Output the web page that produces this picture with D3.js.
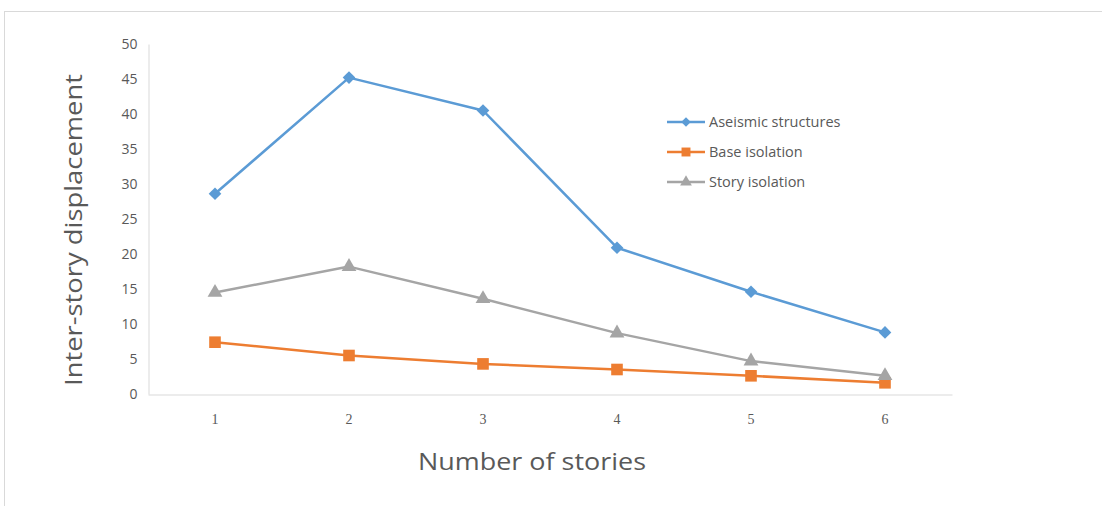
<!DOCTYPE html>
<html>
<head>
<meta charset="utf-8">
<script src="https://cdn.jsdelivr.net/npm/d3@7"></script>
<style>
  html, body { margin: 0; padding: 0; background: #fff; }
  svg { display: block; }
</style>
</head>
<body>
<svg id="chart" width="1102" height="506"></svg>
<script>
// Inter-story displacement by number of stories
const stories = [1, 2, 3, 4, 5, 6];
const aseismic = [28.6, 45.2, 40.5, 20.9, 14.6, 8.8];
const baseIsolation = [7.4, 5.5, 4.3, 3.5, 2.6, 1.6];
const storyIsolation = [14.5, 18.2, 13.6, 8.7, 4.7, 2.6];
const yTicks = [0, 5, 10, 15, 20, 25, 30, 35, 40, 45, 50];

const seriesNames = ["Aseismic structures", "Base isolation", "Story isolation"];
const seriesColors = ["#5b9bd5", "#ed7d31", "#a5a5a5"];
const seriesMarkers = ["diamond", "square", "triangle"];
const seriesValues = [aseismic, baseIsolation, storyIsolation];

const svg = d3.select("#chart");
const textColor = "#595959";
const uiFont = "'Open Sans', 'Liberation Sans', sans-serif";

// chart frame
svg.append("rect")
  .attr("x", 4.5).attr("y", 11.5)
  .attr("width", 1120).attr("height", 520)
  .attr("fill", "#fff").attr("stroke", "#d9d9d9").attr("stroke-width", 1);

const plot = { left: 148, right: 952, top: 44, bottom: 394 };

const x = d3.scaleBand()
  .domain(stories)
  .range([plot.left, plot.right])
  .padding(0);

const y = d3.scaleLinear()
  .domain([0, 50])
  .range([plot.bottom, plot.top]);

const cx = d => x(d) + x.bandwidth() / 2;

// y axis
const yAxis = svg.append("g")
  .attr("transform", `translate(${plot.left + 0.5},0)`)
  .call(d3.axisLeft(y).tickValues(yTicks).tickSize(0).tickPadding(11));
yAxis.select(".domain").attr("stroke", "#d9d9d9");
yAxis.selectAll("text")
  .attr("fill", textColor)
  .style("font-family", uiFont)
  .style("font-size", "14px");

// x axis
const xAxis = svg.append("g")
  .attr("transform", `translate(0,${plot.bottom + 0.5})`)
  .call(d3.axisBottom(x).tickSize(0).tickPadding(20));
xAxis.select(".domain").attr("stroke", "#d9d9d9");
xAxis.selectAll("text")
  .attr("fill", textColor)
  .style("font-family", "'Liberation Serif', serif")
  .style("font-size", "14px");

// axis titles
svg.append("text")
  .attr("transform", "translate(82,230) rotate(-90)")
  .attr("text-anchor", "middle")
  .attr("fill", textColor)
  .style("font-family", uiFont)
  .style("font-size", "24px")
  .attr("textLength", 312)
  .attr("lengthAdjust", "spacingAndGlyphs")
  .text("Inter-story displacement");

svg.append("text")
  .attr("x", 532).attr("y", 470)
  .attr("text-anchor", "middle")
  .attr("fill", textColor)
  .style("font-family", uiFont)
  .style("font-size", "24px")
  .attr("textLength", 228)
  .attr("lengthAdjust", "spacingAndGlyphs")
  .text("Number of stories");

// marker shapes (diamond = square rotated 45°)
const markerShape = {
  diamond: d3.symbol(d3.symbolSquare, 80)(),
  square: d3.symbol(d3.symbolSquare, 135)(),
  triangle: d3.symbol(d3.symbolTriangle, 95)()
};
const legendShape = {
  diamond: d3.symbol(d3.symbolSquare, 45)(),
  square: d3.symbol(d3.symbolSquare, 80)(),
  triangle: d3.symbol(d3.symbolTriangle, 60)()
};

const line = d3.line()
  .x((d, i) => cx(stories[i]))
  .y(d => y(d));

seriesValues.forEach((vals, s) => {
  const kind = seriesMarkers[s];
  const g = svg.append("g");
  g.append("path")
    .datum(vals)
    .attr("d", line)
    .attr("fill", "none")
    .attr("stroke", seriesColors[s])
    .attr("stroke-width", 2.5)
    .attr("stroke-linejoin", "round");
  g.selectAll("path.mk")
    .data(vals)
    .join("path")
    .attr("class", "mk")
    .attr("transform", (d, i) =>
      `translate(${cx(stories[i])},${y(d)})` + (kind === "diamond" ? " rotate(45)" : ""))
    .attr("d", markerShape[kind])
    .attr("fill", seriesColors[s]);
});

// legend
const legend = svg.append("g");
seriesNames.forEach((name, i) => {
  const ly = 122 + i * 30;
  const kind = seriesMarkers[i];
  legend.append("line")
    .attr("x1", 667).attr("x2", 705)
    .attr("y1", ly).attr("y2", ly)
    .attr("stroke", seriesColors[i])
    .attr("stroke-width", 2.5);
  legend.append("path")
    .attr("transform", `translate(686,${ly})` + (kind === "diamond" ? " rotate(45)" : ""))
    .attr("d", legendShape[kind])
    .attr("fill", seriesColors[i]);
  legend.append("text")
    .attr("x", 709).attr("y", ly + 5)
    .attr("fill", textColor)
    .style("font-family", uiFont)
    .style("font-size", "14.5px")
    .text(name);
});
</script>
</body>
</html>
